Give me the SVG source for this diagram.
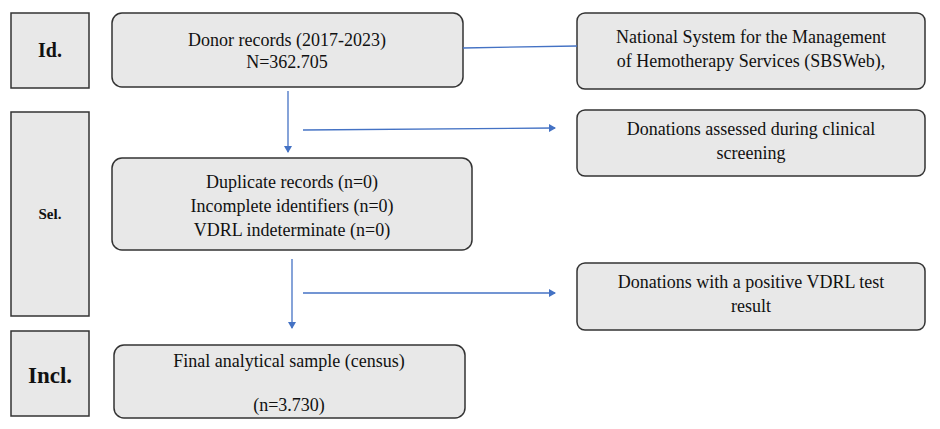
<svg xmlns="http://www.w3.org/2000/svg" width="940" height="429" viewBox="0 0 940 429">
<style>
.b{fill:#e8e8e8;stroke:#333;stroke-width:1.5}
.t{font-family:"Liberation Serif","Times New Roman","DejaVu Serif",serif;font-size:18px;fill:#111;text-anchor:middle}
.h{font-family:"Liberation Serif","Times New Roman","DejaVu Serif",serif;font-weight:bold;fill:#111;text-anchor:middle}
.c{stroke:#4472c4;stroke-width:1.3;fill:none}
</style>
<defs><marker id="a" markerWidth="8" markerHeight="8" refX="6" refY="4" orient="auto" markerUnits="userSpaceOnUse"><path d="M0,0 L7,4 L0,8 z" fill="#4472c4"/></marker></defs>
<rect width="940" height="429" fill="#fff"/>
<g id="id"><rect class="b" x="11" y="13" width="78" height="75"/><text class="h" x="50" y="57" font-size="20">Id.</text></g>
<g id="sel"><rect class="b" x="11" y="112" width="78" height="204"/><text class="h" x="50" y="219" font-size="15">Sel.</text></g>
<g id="incl"><rect class="b" x="11" y="331" width="78" height="85"/><text class="h" x="50" y="383" font-size="23">Incl.</text></g>
<g id="donor"><rect class="b" x="112" y="13" width="351" height="74" rx="10"/><text class="t" x="287" y="46">Donor records (2017-2023)</text><text class="t" x="287" y="68">N=362.705</text></g>
<g id="dup"><rect class="b" x="112" y="158" width="360" height="92" rx="10"/><text class="t" x="292" y="188">Duplicate records (n=0)</text><text class="t" x="292" y="212">Incomplete identifiers (n=0)</text><text class="t" x="292" y="236">VDRL indeterminate (n=0)</text></g>
<g id="final"><rect class="b" x="114" y="345" width="351" height="73" rx="10"/><text class="t" x="289" y="367">Final analytical sample (census)</text><text class="t" x="289" y="411">(n=3.730)</text></g>
<g id="sbs"><rect class="b" x="577" y="13" width="348" height="76" rx="8"/><text class="t" x="751" y="43">National System for the Management</text><text class="t" x="751" y="67">of Hemotherapy Services (SBSWeb),</text></g>
<g id="assessed"><rect class="b" x="577" y="110" width="348" height="66" rx="8"/><text class="t" x="751" y="135">Donations assessed during clinical</text><text class="t" x="751" y="159">screening</text></g>
<g id="positive"><rect class="b" x="577" y="263" width="348" height="67" rx="8"/><text class="t" x="751" y="288">Donations with a positive VDRL test</text><text class="t" x="751" y="312">result</text></g>
<g id="connectors">
<path class="c" d="M463,48 L577,46"/>
<path class="c" d="M288,91 V152" marker-end="url(#a)"/>
<path class="c" d="M303,130 L555,128" marker-end="url(#a)"/>
<path class="c" d="M292,259 V328" marker-end="url(#a)"/>
<path class="c" d="M303,293 L555,293" marker-end="url(#a)"/>
</g>
</svg>
